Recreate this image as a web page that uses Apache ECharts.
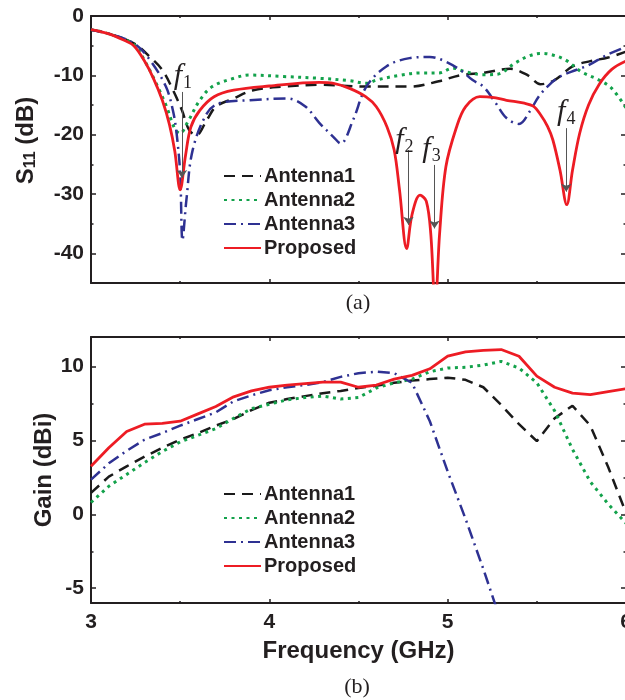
<!DOCTYPE html>
<html>
<head>
<meta charset="utf-8">
<script src="https://cdn.jsdelivr.net/npm/echarts@6/dist/echarts.min.js"></script>
<style>
html, body { margin: 0; padding: 0; background: #fff; }
#chart { width: 625px; height: 700px; }
</style>
</head>
<body>
<div id="chart"></div>
<script>
// ---- (a) reflection coefficient S11 (dB) ----
const s11FreqA1 = [3.00, 3.10, 3.24, 3.33, 3.40, 3.46, 3.51, 3.55, 3.59, 3.65, 3.70, 3.80, 3.91, 4.08, 4.28, 4.54, 4.79, 4.95, 5.07, 5.20, 5.35, 5.45, 5.52, 5.60, 5.70, 5.80, 5.90, 6.00];
const s11A1 = [-2.3, -3.0, -4.6, -6.9, -9.1, -12.5, -15.9, -19.2, -20.1, -17.5, -15.3, -13.9, -12.5, -11.9, -11.6, -11.9, -11.9, -11.0, -10.0, -9.6, -8.9, -10.0, -11.5, -10.8, -8.5, -7.6, -7.0, -6.0];

const s11FreqA2 = [3.00, 3.10, 3.24, 3.30, 3.36, 3.42, 3.47, 3.50, 3.54, 3.61, 3.68, 3.80, 3.89, 4.08, 4.28, 4.45, 4.544, 4.60, 4.73, 4.85, 4.95, 5.03, 5.10, 5.20, 5.28, 5.38, 5.45, 5.52, 5.58, 5.66, 5.75, 5.85, 5.92, 6.00];
const s11A2 = [-2.3, -3.0, -4.8, -7.5, -11.0, -15.0, -19.0, -19.8, -18.0, -14.2, -11.9, -10.5, -9.95, -10.2, -10.5, -10.9, -11.35, -10.8, -10.0, -9.6, -9.6, -8.8, -9.4, -9.9, -9.8, -7.9, -6.8, -6.3, -6.5, -7.4, -9.4, -10.8, -12.2, -15.5];

const s11FreqA3 = [3.00, 3.10, 3.24, 3.33, 3.42, 3.46, 3.48, 3.50, 3.513, 3.535, 3.57, 3.65, 3.72, 3.89, 4.10, 4.20, 4.28, 4.36, 4.40, 4.47, 4.544, 4.656, 4.786, 4.90, 4.99, 5.08, 5.14, 5.20, 5.27, 5.33, 5.40, 5.46, 5.51, 5.57, 5.63, 5.72, 5.79, 5.89, 6.00];
const s11A3 = [-2.3, -3.0, -4.6, -7.4, -11.9, -16.0, -19.8, -26.5, -37.8, -31.0, -22.6, -16.4, -14.7, -14.2, -13.9, -15.2, -18.0, -20.4, -21.5, -17.5, -11.9, -8.5, -7.1, -6.9, -7.7, -9.3, -10.8, -11.9, -14.7, -17.2, -18.2, -16.1, -13.6, -11.6, -10.2, -9.1, -8.3, -6.6, -5.2];

const s11FreqProp = [3.00, 3.10, 3.18, 3.24, 3.30, 3.35, 3.40, 3.44, 3.47, 3.50, 3.53, 3.56, 3.61, 3.69, 3.80, 4.00, 4.28, 4.36, 4.45, 4.54, 4.60, 4.66, 4.70, 4.73, 4.77, 4.80, 4.845, 4.88, 4.905, 4.93, 4.955, 4.99, 5.05, 5.10, 5.18, 5.25, 5.33, 5.43, 5.48, 5.52, 5.56, 5.59, 5.63, 5.668, 5.70, 5.74, 5.79, 5.85, 5.92, 6.00];
const s11Prop = [-2.3, -3.0, -4.0, -5.0, -7.6, -10.5, -14.2, -18.3, -22.8, -29.3, -23.5, -18.7, -15.9, -13.6, -12.5, -11.8, -11.2, -11.35, -12.2, -13.6, -15.3, -18.7, -22.6, -29.3, -39.2, -33.5, -30.2, -31.2, -36.6, -49.0, -36.6, -25.4, -18.7, -15.3, -13.6, -13.7, -14.2, -14.7, -15.2, -16.6, -18.6, -20.9, -26.0, -31.8, -26.0, -19.8, -15.0, -11.5, -9.0, -7.6];

// resonance markers f1..f4 on the proposed curve
const resFreq = [3.51, 4.78, 4.926, 5.665];
const resArrowFrom = [-12.8, -22.6, -25.1, -18.9];
const resArrowTo = [-27.3, -35.2, -35.8, -29.6];
const resIndex = ['1', '2', '3', '4'];

// ---- (b) gain (dBi), sampled every 0.1 GHz ----
const gainFreq = [3.0, 3.1, 3.2, 3.3, 3.4, 3.5, 3.6, 3.7, 3.8, 3.9, 4.0, 4.1, 4.2, 4.3, 4.4, 4.5, 4.6, 4.7, 4.8, 4.9, 5.0, 5.1, 5.2, 5.3, 5.4, 5.5, 5.6, 5.7, 5.8, 5.9, 6.0];
const gainA1 = [1.45, 2.55, 3.25, 3.9, 4.5, 5.05, 5.5, 6.0, 6.45, 7.05, 7.55, 7.8, 8.0, 8.2, 8.35, 8.55, 8.7, 8.9, 9.05, 9.15, 9.25, 9.1, 8.6, 7.4, 6.1, 4.95, 6.5, 7.35, 6.0, 3.2, 0.1];
const gainA2 = [0.8, 1.9, 2.7, 3.5, 4.25, 4.9, 5.35, 5.8, 6.5, 7.15, 7.45, 7.75, 7.9, 8.0, 7.8, 7.9, 8.55, 8.9, 9.15, 9.65, 9.9, 9.95, 10.1, 10.35, 9.9, 8.9, 7.0, 4.4, 2.2, 0.7, -0.6];
const gainA3 = [2.35, 3.45, 4.3, 5.05, 5.5, 6.0, 6.45, 6.9, 7.65, 8.05, 8.4, 8.6, 8.75, 8.95, 9.3, 9.55, 9.65, 9.55, 8.9, 6.3, 2.9, -0.3, -3.7, -7.3];
const gainProp = [3.25, 4.5, 5.6, 6.1, 6.15, 6.3, 6.8, 7.3, 7.95, 8.35, 8.6, 8.75, 8.85, 8.95, 8.95, 8.6, 8.75, 9.15, 9.4, 9.85, 10.7, 11.0, 11.1, 11.15, 10.7, 9.35, 8.6, 8.2, 8.1, 8.3, 8.5];

// ---- axis ticks ----
const freqRange = [3, 6];
const s11Range = [-45, 0];
const s11Major = [0, -10, -20, -30, -40];
const s11Minor = [-5, -15, -25, -35];
const gainRange = [-6, 12];
const gainMajor = [10, 5, 0, -5];
const gainMinor = [7.5, 2.5, -2.5];

const seriesNames = ['Antenna1', 'Antenna2', 'Antenna3', 'Proposed'];

// ---- styling ----
const SANS = "'Liberation Sans', Arial, Helvetica, sans-serif";
const SERIF = "'Liberation Serif', 'Times New Roman', serif";
const INK = '#231f20';
const lineStyles = {
  Antenna1: { color: '#1a1a1a', width: 2.5, type: [11, 7], cap: 'butt' },
  Antenna2: { color: '#13a24b', width: 3, type: [3, 4.5], cap: 'butt' },
  Antenna3: { color: '#2e3192', width: 2.5, type: [12, 5, 2, 5], cap: 'butt' },
  Proposed: { color: '#ed1c24', width: 2.8, type: 'solid' }
};
const resLabelOffset = [[1, -16], [-4, -10], [-3, -16], [0, -16]];

const pairs = (xs, ys) => ys.map((y, i) => [xs[i], y]);

const axisLine = { show: true, onZero: false, lineStyle: { color: INK, width: 2 } };
const tickLine = { color: INK, width: 1.5 };

function xAxisFor(grid, position, withLabels) {
  const ax = {
    type: 'value', gridIndex: grid, position: position,
    min: freqRange[0], max: freqRange[1], interval: 1,
    axisLine: axisLine,
    axisTick: { show: true, inside: true, length: 4, lineStyle: tickLine },
    minorTick: { show: true, splitNumber: 2, length: 2, lineStyle: tickLine },
    splitLine: { show: false }, minorSplitLine: { show: false },
    axisLabel: { show: false }
  };
  if (withLabels) {
    ax.axisLabel = { show: true, margin: 9, fontSize: 21, fontWeight: 'bold', fontFamily: SANS, color: INK };
    ax.name = 'Frequency (GHz)';
    ax.nameLocation = 'middle';
    ax.nameGap = 36;
    ax.nameMoveOverlap = false;
    ax.nameTextStyle = { fontSize: 24, fontWeight: 'bold', fontFamily: SANS, color: INK };
  }
  return ax;
}

function yAxisFor(grid, position, range, ticks, major, label) {
  const ax = {
    type: 'value', gridIndex: grid, position: position,
    min: range[0], max: range[1],
    axisLine: major ? axisLine : { show: false },
    axisTick: { show: true, inside: true, length: major ? 5 : 2.5, customValues: ticks, lineStyle: tickLine },
    splitLine: { show: false },
    axisLabel: { show: false }
  };
  if (label) {
    ax.axisLabel = { show: true, customValues: ticks, margin: 7, fontSize: 21, fontWeight: 'bold', fontFamily: SANS, color: INK };
    Object.assign(ax, label);
  }
  return ax;
}

const s11Name = {
  name: 'S{sub|11} (dB)', nameLocation: 'middle', nameRotate: 90, nameGap: 52, nameMoveOverlap: false,
  nameTextStyle: {
    fontSize: 24, fontWeight: 'bold', fontFamily: SANS, color: INK, padding: [0, 0, 0, 18],
    rich: { sub: { fontSize: 16, fontWeight: 'bold', fontFamily: SANS, color: INK, padding: [10, 0, 0, 0] } }
  }
};
const gainName = {
  name: 'Gain (dBi)', nameLocation: 'middle', nameRotate: 90, nameGap: 35, nameMoveOverlap: false,
  nameTextStyle: { fontSize: 24, fontWeight: 'bold', fontFamily: SANS, color: INK }
};

const s11Data = {
  Antenna1: pairs(s11FreqA1, s11A1),
  Antenna2: pairs(s11FreqA2, s11A2),
  Antenna3: pairs(s11FreqA3, s11A3),
  Proposed: pairs(s11FreqProp, s11Prop)
};
const gainData = {
  Antenna1: pairs(gainFreq, gainA1),
  Antenna2: pairs(gainFreq, gainA2),
  Antenna3: pairs(gainFreq, gainA3),
  Proposed: pairs(gainFreq, gainProp)
};

const series = [];
seriesNames.forEach(name => {
  series.push({
    name: name, type: 'line', xAxisIndex: 0, yAxisIndex: 0,
    data: s11Data[name], symbol: 'none', smooth: 0.35, clip: true,
    lineStyle: lineStyles[name], itemStyle: { color: lineStyles[name].color },
    z: name === 'Proposed' ? 4 : 3
  });
});
// resonance arrows and f labels on the proposed S11 curve
const prop = series[3];
prop.markLine = {
  silent: true, symbol: ['none', 'arrow'], symbolSize: 8, animation: false,
  label: { show: false },
  lineStyle: { color: '#555555', width: 1, type: 'solid' },
  emphasis: { disabled: true },
  data: resFreq.map((f, i) => [{ coord: [f, resArrowFrom[i]] }, { coord: [f, resArrowTo[i]] }])
};
prop.markPoint = {
  silent: true, symbol: 'circle', symbolSize: 0, animation: false,
  label: {
    show: true, position: 'inside',
    formatter: p => '{f|f}{s|' + p.value + '}',
    rich: {
      f: { fontFamily: SERIF, fontStyle: 'italic', fontSize: 30, color: INK },
      s: { fontFamily: SERIF, fontSize: 18, color: INK, padding: [14, 0, 0, 1] }
    }
  },
  data: resFreq.map((f, i) => ({ coord: [f, resArrowFrom[i]], value: resIndex[i], label: { offset: resLabelOffset[i] } }))
};
seriesNames.forEach(name => {
  series.push({
    name: name, type: 'line', xAxisIndex: 2, yAxisIndex: 4,
    data: gainData[name], symbol: 'none', smooth: false, clip: true,
    lineStyle: lineStyles[name], itemStyle: { color: lineStyles[name].color },
    z: name === 'Proposed' ? 4 : 3
  });
});

const legendCommon = {
  orient: 'vertical', left: 218, itemWidth: 37, itemHeight: 14, itemGap: 4,
  selectedMode: false, data: seriesNames,
  itemStyle: { opacity: 0 },
  textStyle: { fontSize: 20, fontWeight: 'bold', fontFamily: SANS, color: INK, padding: [0, 0, 0, -2] }
};

const option = {
  animation: false,
  backgroundColor: '#ffffff',
  grid: [
    { left: 91, top: 16, width: 535, height: 267, outerBoundsMode: 'none' },
    { left: 91, top: 337, width: 535, height: 266, outerBoundsMode: 'none' }
  ],
  xAxis: [
    xAxisFor(0, 'bottom', false),
    xAxisFor(0, 'top', false),
    xAxisFor(1, 'bottom', true),
    xAxisFor(1, 'top', false)
  ],
  yAxis: [
    yAxisFor(0, 'left', s11Range, s11Major, true, s11Name),
    yAxisFor(0, 'left', s11Range, s11Minor, false),
    yAxisFor(0, 'right', s11Range, s11Major, true),
    yAxisFor(0, 'right', s11Range, s11Minor, false),
    yAxisFor(1, 'left', gainRange, gainMajor, true, gainName),
    yAxisFor(1, 'left', gainRange, gainMinor, false),
    yAxisFor(1, 'right', gainRange, gainMajor, true),
    yAxisFor(1, 'right', gainRange, gainMinor, false)
  ],
  legend: [
    Object.assign({}, legendCommon, { top: 161 }),
    Object.assign({}, legendCommon, { top: 479 })
  ],
  graphic: [
    { type: 'text', x: 358, y: 303, style: { text: '(a)', fontSize: 22, fontFamily: SERIF, fill: INK, align: 'center', verticalAlign: 'middle' } },
    { type: 'text', x: 357, y: 687, style: { text: '(b)', fontSize: 22, fontFamily: SERIF, fill: INK, align: 'center', verticalAlign: 'middle' } }
  ],
  series: series
};

const chart = echarts.init(document.getElementById('chart'), null, { renderer: 'canvas' });
chart.setOption(option);
</script>
</body>
</html>
